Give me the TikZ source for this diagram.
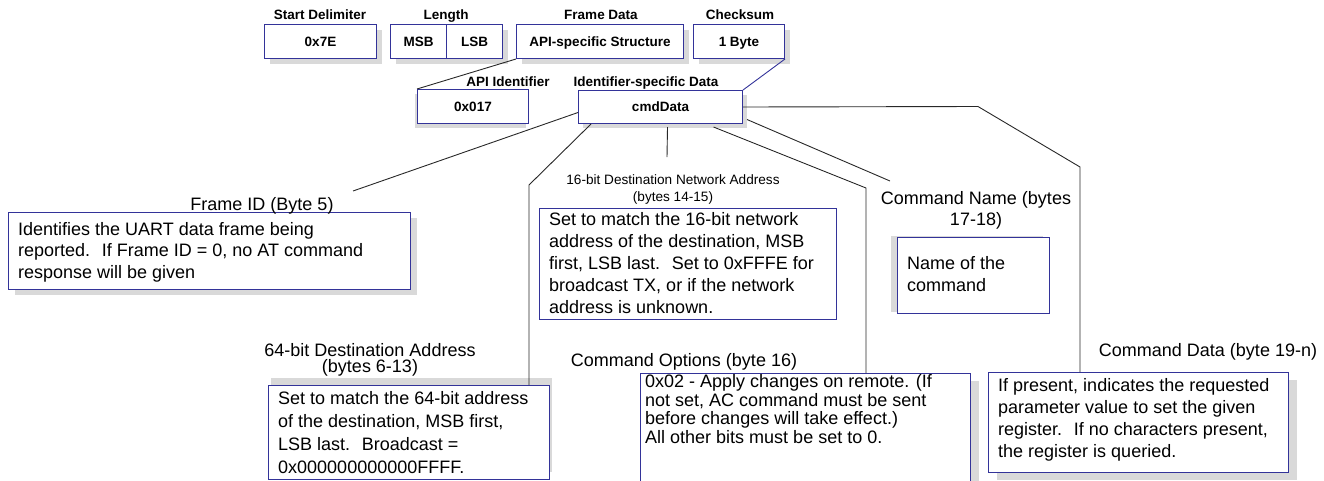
\documentclass[tikz,border=0pt]{standalone}
\usepackage{fontspec}
\setmainfont{Liberation Sans}
\usetikzlibrary{shadows}
\definecolor{boxblue}{RGB}{51,51,153}
\definecolor{shadowgray}{RGB}{217,217,217}
\definecolor{linegray}{RGB}{40,40,40}
\tikzset{
  shd/.style 2 args={drop shadow={shadow xshift=#1pt, shadow yshift=#2pt, fill=shadowgray, opacity=1, draw=none}},
  fieldbox/.style={draw=boxblue, line width=1pt, fill=white, inner sep=0pt, anchor=north west,
    minimum height=34pt, font=\fontsize{13.5}{16}\selectfont\bfseries, text height=9.7pt, text depth=0pt},
  hdr/.style={font=\fontsize{13.5}{16}\selectfont\bfseries, inner sep=0pt, anchor=base},
  descbox/.style={draw=boxblue, line width=1pt, fill=white, inner sep=0pt, anchor=north west},
  desctext/.style={font=\fontsize{18}{22}\selectfont, align=left, inner sep=0pt, anchor=west},
  lbl/.style={font=\fontsize{18}{21}\selectfont, align=center, inner sep=0pt},
  smalllbl/.style={font=\fontsize{13.6}{17}\selectfont, align=center, inner sep=0pt},
  conn/.style={draw=linegray, line width=0.9pt},
}
\begin{document}
\begin{tikzpicture}[x=1pt,y=-1pt]
\useasboundingbox (0,0) rectangle (1324,480);
\clip (0,0) rectangle (1324,480);

% headers
\node[hdr] (hsd) at (320,19) {Start Delimiter};
\node[hdr] (hlen) at (446,19) {Length};
\node[hdr] (hfd) at (601,19) {Frame Data};
\node[hdr] (hcks) at (740,19) {Checksum};
\node[hdr] (hapi) at (508,86) {API Identifier};
\node[hdr] (hcmd) at (646,86) {Identifier-specific Data};

% top fields
\node[fieldbox, shd={5}{-5}, minimum width=112pt] (sd) at (264,24) {0x7E};
\node[fieldbox, shd={5}{-5}, minimum width=56pt] (msb) at (390,24) {MSB};
\node[fieldbox, shd={5}{-5}, minimum width=56pt] (lsb) at (446,24) {LSB};
\node[fieldbox, shd={5}{-5}, minimum width=167pt] (fd) at (516,24) {API-specific Structure};
\node[fieldbox, shd={5}{-5}, minimum width=91pt] (cks) at (693,24) {1 Byte};
\node[fieldbox, shd={-3}{-4}, minimum width=111pt] (api) at (417,89) {0x017};
\node[fieldbox, shd={4}{-4}, minimum width=164pt, minimum height=33pt] (cmd) at (578,90) {cmdData};

% description boxes
\node[descbox, shd={6}{-5}, minimum width=402pt, minimum height=77pt] (fid) at (8,212) {};
\node[descbox, shd={2}{8}, minimum width=281pt, minimum height=94pt] (b64) at (268,385) {};
\node[descbox, minimum width=297pt, minimum height=111pt] (b16) at (539,208) {};
\node[descbox, shd={-7}{2}, minimum width=152pt, minimum height=76pt] (name) at (897,237) {};
\node[descbox, shd={8}{-7}, minimum width=330pt, minimum height=130pt] (opt) at (640,373) {};
\node[descbox, shd={8}{-7}, minimum width=300pt, minimum height=100pt] (cdata) at (988,372) {};

\node[desctext, font=\fontsize{18}{21.5}\selectfont] (fidt) at (18,252) {Identifies the UART data frame being\\reported.~ If Frame ID = 0, no AT command\\response will be given};
\node[desctext, font=\fontsize{18}{23}\selectfont] (b64t) at (278,433) {Set to match the 64-bit address\\of the destination, MSB first,\\LSB last.~ Broadcast =\\0x000000000000FFFF.};
\node[desctext] (b16t) at (549,263) {Set to match the 16-bit network\\address of the destination, MSB\\first, LSB last.~ Set to 0xFFFE for\\broadcast TX, or if the network\\address is unknown.};
\node[desctext] (namet) at (907,274) {Name of the\\command};
\node[desctext, font=\fontsize{18}{18.5}\selectfont] (optt) at (645,409) {0x02 - Apply changes on remote. (If\\not set, AC command must be sent\\before changes will take effect.)\\All other bits must be set to 0.};
\node[desctext] (cdatat) at (998,420) {If present, indicates the requested\\parameter value to set the given\\register.~ If no characters present,\\the register is queried.};

% labels
\node[lbl, anchor=base] (lfid) at (262,210) {Frame ID (Byte 5)};
\node[lbl, font=\fontsize{18}{16.5}\selectfont] (l64) at (370,360) {64-bit Destination Address\\(bytes 6-13)};
\node[smalllbl] (l16) at (673,189) {16-bit Destination Network Address\\(bytes 14-15)};
\node[lbl, anchor=base] (lopt) at (684,366) {Command Options (byte 16)};
\node[lbl] (lname) at (976,210) {Command Name (bytes\\17-18)};
\node[lbl, anchor=base] (lcdata) at (1208,356) {Command Data (byte 19-n)};

% connectors
\draw[conn] (fd.south west) -- (api.north west);
\draw[draw=boxblue, line width=0.9pt] (cks.south east) -- (cmd.north east);
\coordinate (fidend) at (353,191);
\draw[conn] ([yshift=-5.5pt]cmd.west) -- (fidend);
\coordinate (b64bend) at (529,185);
\draw[conn] ([xshift=13pt]cmd.south west) -- (b64bend) -- (b64bend |- b64.north);
\coordinate (n16end) at (667,157);
\draw[conn] ([xshift=7pt,yshift=-3pt]cmd.south) -- (n16end);
\coordinate (optbend) at (866,188);
\draw[conn] ([xshift=53pt,yshift=-3pt]cmd.south) -- (optbend) -- (optbend |- opt.north);
\coordinate (nameend) at (890,181);
\draw[conn] ([xshift=4pt,yshift=-12.5pt]cmd.east) -- (nameend);
\coordinate (cd1) at (978,106.5);
\coordinate (cd2) at (1080,167);
\draw[conn] (cmd.east) -- (cd1) -- (cd2) -- (cd2 |- cdata.north);
\end{tikzpicture}
\end{document}
